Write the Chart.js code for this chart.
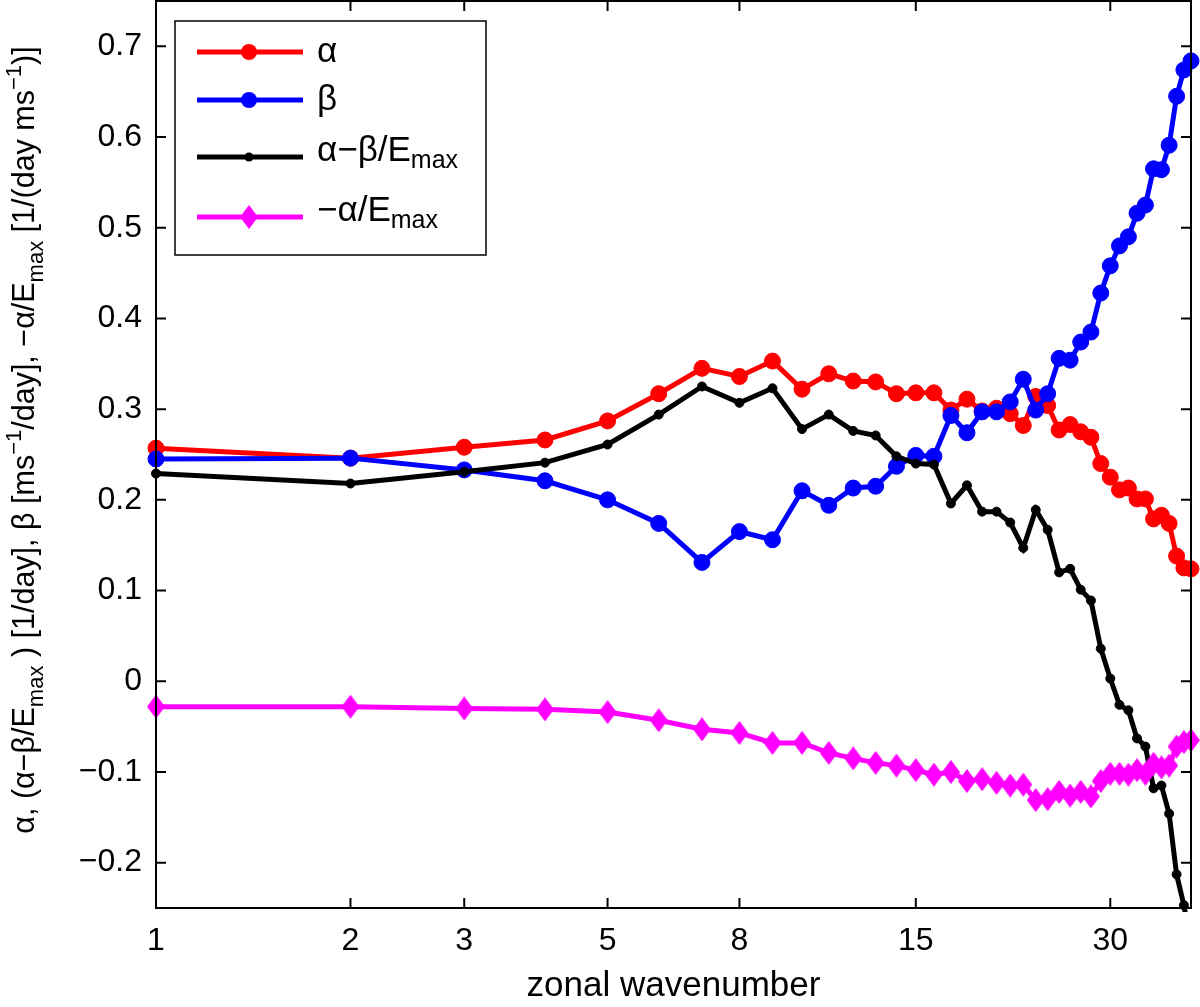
<!DOCTYPE html>
<html>
<head>
<meta charset="utf-8">
<script src="https://cdn.jsdelivr.net/npm/chart.js@4.4.1/dist/chart.umd.min.js"></script>
<style>
body { margin: 0; background: #fff; }
canvas { display: block; }
</style>
</head>
<body>
<canvas id="myChart" width="1200" height="1007"></canvas>
<script>
let wavenumber = [1, 2, 3, 4, 5, 6, 7, 8, 9, 10, 11, 12, 13, 14, 15, 16, 17, 18, 19, 20,
    21, 22, 23, 24, 25, 26, 27, 28, 29, 30, 31, 32, 33, 34, 35, 36, 37, 38, 39, 40]
let alpha = [0.257, 0.246, 0.258, 0.266, 0.287, 0.317, 0.345, 0.336, 0.353, 0.322,
    0.339, 0.331, 0.330, 0.317, 0.318, 0.318, 0.299, 0.311, 0.298, 0.301,
    0.295, 0.282, 0.314, 0.304, 0.277, 0.283, 0.275, 0.269, 0.240, 0.225,
    0.211, 0.213, 0.201, 0.201, 0.179, 0.183, 0.174, 0.138, 0.125, 0.124]
let beta = [0.245, 0.246, 0.233, 0.221, 0.200, 0.174, 0.131, 0.165, 0.156, 0.210,
    0.194, 0.213, 0.215, 0.237, 0.249, 0.248, 0.293, 0.274, 0.297, 0.297,
    0.308, 0.333, 0.299, 0.317, 0.356, 0.354, 0.374, 0.385, 0.428, 0.458,
    0.480, 0.490, 0.516, 0.525, 0.565, 0.564, 0.591, 0.645, 0.674, 0.684]
let alphaMinusBeta = [0.229, 0.218, 0.231, 0.241, 0.261, 0.294, 0.325, 0.307, 0.323, 0.278,
    0.294, 0.276, 0.271, 0.248, 0.240, 0.239, 0.196, 0.216, 0.187, 0.187,
    0.175, 0.147, 0.189, 0.167, 0.120, 0.124, 0.101, 0.089, 0.036, 0.003,
    -0.026, -0.032, -0.063, -0.072, -0.118, -0.115, -0.146, -0.213, -0.247, -0.290]
let minusAlpha = [-0.028, -0.028, -0.030, -0.031, -0.034, -0.043, -0.053, -0.057, -0.068, -0.068,
    -0.079, -0.085, -0.090, -0.093, -0.098, -0.103, -0.100, -0.110, -0.108, -0.112,
    -0.115, -0.114, -0.131, -0.130, -0.122, -0.126, -0.122, -0.127, -0.110, -0.102,
    -0.102, -0.103, -0.098, -0.102, -0.091, -0.095, -0.093, -0.072, -0.067, -0.065]
let xTicks = [1, 2, 3, 5, 8, 15, 30]
let yTicks = [-0.2, -0.1, 0, 0.1, 0.2, 0.3, 0.4, 0.5, 0.6, 0.7]

let FONT = '"Liberation Sans", Arial, sans-serif'

function  Points(values){
    let pts = []
    for (let i = 0; i < wavenumber.length; i++) {
        pts.push({x: wavenumber[i], y: values[i]})
    }
    return pts
}

// matlab style diamond, a bit taller than wide
function  Diamond(w, h, color){
    let c = document.createElement('canvas')
    c.width = w
    c.height = h
    let g = c.getContext('2d')
    g.fillStyle = color
    g.beginPath()
    g.moveTo(w / 2, 0)
    g.lineTo(w, h / 2)
    g.lineTo(w / 2, h)
    g.lineTo(0, h / 2)
    g.closePath()
    g.fill()
    return c
}
let diamond = Diamond(18, 24, '#ff00ff')

// text with sub / superscripts, parts = [[text, 'n'|'sub'|'sup'], ...]
function  RichWidth(ctx, parts, size){
    let w = 0
    for (let p of parts) {
        ctx.font = (p[1] === 'n' ? size : Math.round(size * 0.72)) + 'px ' + FONT
        w += ctx.measureText(p[0]).width
    }
    return w
}
function  DrawRich(ctx, parts, x, y, size){
    for (let p of parts) {
        let dy = 0
        if (p[1] === 'n') {
            ctx.font = size + 'px ' + FONT
        } else {
            ctx.font = Math.round(size * 0.72) + 'px ' + FONT
            dy = p[1] === 'sub' ? size * 0.3 : -size * 0.42
        }
        ctx.fillText(p[0], x, y + dy)
        x += ctx.measureText(p[0]).width
    }
}

let axesPlugin = {
    id: 'matlabAxes',
    afterDraw(chart){
        let ctx = chart.ctx
        let a = chart.chartArea
        let xs = chart.scales.x
        let ys = chart.scales.y
        ctx.save()
        ctx.strokeStyle = '#000'
        ctx.fillStyle = '#000'
        ctx.lineWidth = 2
        ctx.strokeRect(a.left, a.top, a.right - a.left, a.bottom - a.top)

        ctx.beginPath()
        for (let v of xTicks) {
            let px = xs.getPixelForValue(v)
            ctx.moveTo(px, a.bottom); ctx.lineTo(px, a.bottom - 10)
            ctx.moveTo(px, a.top); ctx.lineTo(px, a.top + 10)
        }
        for (let v of yTicks) {
            let py = ys.getPixelForValue(v)
            ctx.moveTo(a.left, py); ctx.lineTo(a.left + 10, py)
            ctx.moveTo(a.right, py); ctx.lineTo(a.right - 10, py)
        }
        ctx.stroke()

        ctx.font = '32px ' + FONT
        ctx.textAlign = 'center'
        ctx.textBaseline = 'middle'
        for (let v of xTicks) {
            ctx.fillText(String(v), xs.getPixelForValue(v), a.bottom + 33)
        }
        ctx.textAlign = 'right'
        for (let v of yTicks) {
            let label = v.toFixed(1).replace('-', '\u2212')
            if (v === 0) label = '0'
            ctx.fillText(label, a.left - 14, ys.getPixelForValue(v))
        }

        ctx.textAlign = 'center'
        ctx.font = '35px ' + FONT
        ctx.fillText('zonal wavenumber', (a.left + a.right) / 2, a.bottom + 78)

        // y label, rotated
        let ylab = [['\u03b1, (\u03b1\u2212\u03b2/E', 'n'], ['max', 'sub'], [' ) [1/day], \u03b2 [ms', 'n'],
            ['\u22121', 'sup'], ['/day], \u2212\u03b1/E', 'n'], ['max', 'sub'], [' [1/(day ms', 'n'],
            ['\u22121', 'sup'], [')]', 'n']]
        ctx.save()
        ctx.translate(34, 440)
        ctx.rotate(-Math.PI / 2)
        ctx.textAlign = 'left'
        ctx.textBaseline = 'alphabetic'
        let w = RichWidth(ctx, ylab, 30.5)
        DrawRich(ctx, ylab, -w / 2, 0, 30.5)
        ctx.restore()

        // legend
        let lx = 175, ly = 21, lw = 311, lh = 234
        ctx.fillStyle = '#fff'
        ctx.fillRect(lx, ly, lw, lh)
        ctx.lineWidth = 1.5
        ctx.strokeRect(lx, ly, lw, lh)
        let rows = [
            {color: '#ff0000', y: 52, mark: 'circle', r: 8, text: [['\u03b1', 'n']], shift: 0},
            {color: '#0000ff', y: 100, mark: 'circle', r: 8, text: [['\u03b2', 'n']], shift: 0},
            {color: '#000000', y: 157, mark: 'circle', r: 4.5, text: [['\u03b1\u2212\u03b2/E', 'n'], ['max', 'sub']], shift: -6},
            {color: '#ff00ff', y: 217, mark: 'diamond', r: 0, text: [['\u2212\u03b1/E', 'n'], ['max', 'sub']], shift: -6}
        ]
        for (let r of rows) {
            ctx.strokeStyle = r.color
            ctx.fillStyle = r.color
            ctx.lineWidth = 5
            ctx.beginPath()
            ctx.moveTo(197, r.y); ctx.lineTo(303, r.y)
            ctx.stroke()
            if (r.mark === 'circle') {
                ctx.beginPath()
                ctx.arc(249, r.y, r.r, 0, Math.PI * 2)
                ctx.fill()
            } else {
                ctx.drawImage(diamond, 249 - 9, r.y - 12)
            }
            ctx.fillStyle = '#000'
            ctx.textAlign = 'left'
            ctx.textBaseline = 'middle'
            DrawRich(ctx, r.text, 317, r.y + r.shift, 35)
        }
        ctx.restore()
    }
}

let chart = new Chart('myChart', {
    type: 'scatter',
    data: {
        datasets: [
            {
                label: '\u03b1',
                data: Points(alpha),
                showLine: true,
                borderColor: '#ff0000',
                backgroundColor: '#ff0000',
                borderWidth: 5,
                pointRadius: 8,
                pointBorderWidth: 1,
                order: 4,
                clip: false
            },
            {
                label: '\u03b2',
                data: Points(beta),
                showLine: true,
                borderColor: '#0000ff',
                backgroundColor: '#0000ff',
                borderWidth: 5,
                pointRadius: 8,
                pointBorderWidth: 1,
                order: 3,
                clip: false
            },
            {
                label: '\u03b1\u2212\u03b2/Emax',
                data: Points(alphaMinusBeta),
                showLine: true,
                borderColor: '#000000',
                backgroundColor: '#000000',
                borderWidth: 5,
                pointRadius: 4.5,
                pointBorderWidth: 1,
                order: 2,
                clip: {left: false, top: false, right: false, bottom: 4}
            },
            {
                label: '\u2212\u03b1/Emax',
                data: Points(minusAlpha),
                showLine: true,
                borderColor: '#ff00ff',
                backgroundColor: '#ff00ff',
                borderWidth: 5,
                pointStyle: diamond,
                order: 1,
                clip: false
            }
        ]
    },
    options: {
        responsive: false,
        animation: false,
        devicePixelRatio: 1,
        layout: {
            autoPadding: false,
            padding: {left: 156, right: 9, top: 1, bottom: 99}
        },
        scales: {
            x: {type: 'logarithmic', min: 1, max: 40, display: false},
            y: {type: 'linear', min: -0.25, max: 0.75, display: false}
        },
        plugins: {
            legend: {display: false},
            tooltip: {enabled: false},
            title: {display: false}
        }
    },
    plugins: [axesPlugin]
})
</script>
</body>
</html>
